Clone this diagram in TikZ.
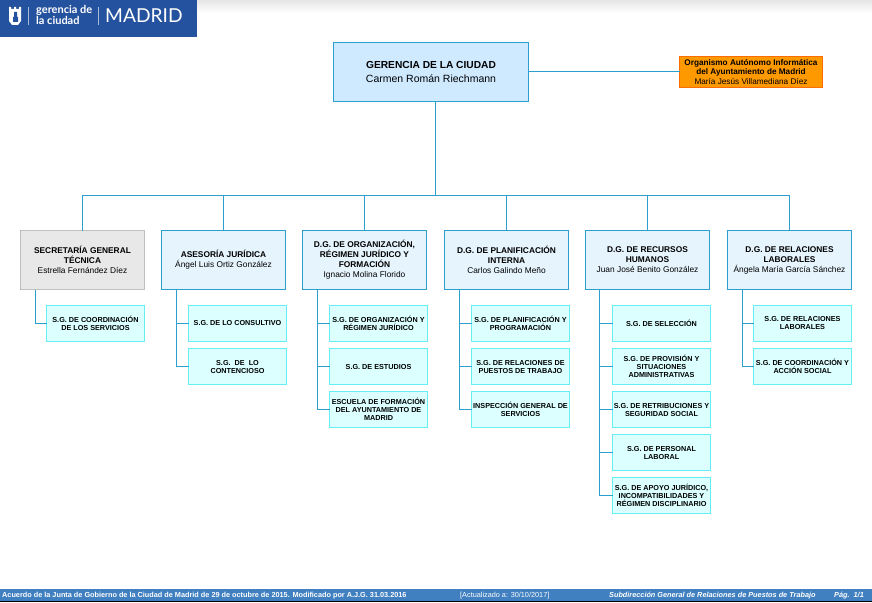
\documentclass[tikz,border=0pt]{standalone}
\usepackage{fontspec}
\setmainfont{Liberation Sans}
\newfontfamily\logofont{Lato}
\usepackage{xcolor}
\definecolor{linkblue}{HTML}{2BA0CF}
\definecolor{headblue}{HTML}{25529E}
\definecolor{footblue}{HTML}{4080C0}
\definecolor{topfill}{HTML}{CFEAFF}
\definecolor{dirfill}{HTML}{E6F4FD}
\definecolor{subfill}{HTML}{DCFFFF}
\definecolor{subline}{HTML}{66EEF2}
\definecolor{orgfill}{HTML}{FF9900}
\tikzset{
  topbox/.style={draw=linkblue,fill=topfill,line width=1.3pt,anchor=north west,minimum width=195pt,minimum height=59pt,
    inner sep=0pt,outer sep=0pt,align=center,font=\fontsize{10.5}{13.5}\selectfont},
  orgbox/.style={draw=orange!85!red,fill=orgfill,line width=.8pt,anchor=north west,minimum width=143pt,minimum height=31pt,
    inner sep=0pt,outer sep=0pt,align=center,font=\fontsize{8.2}{9.3}\selectfont},
  dirbox/.style={draw=linkblue,fill=dirfill,line width=1.3pt,anchor=north west,minimum width=124pt,minimum height=59pt,
    inner sep=0pt,outer sep=0pt,align=center,font=\fontsize{8.35}{10}\selectfont},
  secbox/.style={dirbox,draw=black!25,fill=black!9},
  subbox/.style={draw=subline,fill=subfill,line width=1pt,anchor=north west,minimum width=98pt,minimum height=36pt,
    inner sep=0pt,outer sep=0pt,align=center,font=\fontsize{7.25}{8}\selectfont\bfseries},
  link/.style={draw=linkblue,line width=1.3pt},
  foot/.style={anchor=west,inner sep=0pt,text=white,font=\fontsize{7.3}{8}\selectfont},
}
\begin{document}
\begin{tikzpicture}[x=1pt,y=-1pt]
   \useasboundingbox (0,0) rectangle (872,602);
   % header
   \shade[top color=black!10,bottom color=white] (197,0) rectangle (872,13);
   \fill[headblue] (0,0) rectangle (197,37);
   \fill[white] (9,7) -- (11,7) -- (11,9) -- (14,9) -- (14,7) -- (16,7) -- (16,9) -- (19,9) -- (19,7) -- (21,7)
      -- (21,21) -- (18,25) -- (12,25) -- (9,21) -- cycle;
   \fill[headblue] (14,12) rectangle (17,17) (13,17) rectangle (18,22);
   \draw[white!60!headblue,line width=.7pt] (28.5,7) -- (28.5,25);
   \draw[white!60!headblue,line width=.7pt] (98.5,7) -- (98.5,25);
   \node[anchor=west,inner sep=0pt,align=left,text=white,font=\logofont\bfseries\fontsize{11}{11}\selectfont] (logotext) at (36,14.5) {gerencia de\\la ciudad};
   \node[anchor=west,inner sep=0pt,text=white,font=\logofont\fontsize{19.2}{19}\selectfont] (logocity) at (105,16) {MADRID};
   % top
   \node[topbox] (gerencia) at (333.5,42.5) {\textbf{\fontsize{10.2}{13.5}\selectfont GERENCIA DE LA CIUDAD}\\Carmen Román Riechmann};
   \node[orgbox] (informatica) at (679.5,56.5) {\textbf{Organismo Autónomo Informática}\\\textbf{del Ayuntamiento de Madrid}\\María Jesús Villamediana Díez};
   % direcciones
   \node[secbox] (secretaria) at (20.5,230.5) {\textbf{SECRETARÍA GENERAL}\\\textbf{TÉCNICA}\\Estrella Fernández Díez};
   \node[dirbox] (asesoria) at (161.5,230.5) {\textbf{ASESORÍA JURÍDICA}\\Ángel Luis Ortiz González};
   \node[dirbox] (organizacion) at (302.5,230.5) {\textbf{D.G. DE ORGANIZACIÓN,}\\\textbf{RÉGIMEN JURÍDICO Y}\\\textbf{FORMACIÓN}\\Ignacio Molina Florido};
   \node[dirbox] (planificacion) at (444.5,230.5) {\textbf{D.G. DE PLANIFICACIÓN}\\\textbf{INTERNA}\\Carlos Galindo Meño};
   \node[dirbox] (recursos) at (585.5,230.5) {\textbf{D.G. DE RECURSOS}\\\textbf{HUMANOS}\\Juan José Benito González};
   \node[dirbox] (relaciones) at (727.5,230.5) {\textbf{D.G. DE RELACIONES}\\\textbf{LABORALES}\\Ángela María García Sánchez};
   % subdirecciones
   \node[subbox] (secA) at (46.5,305.5) {S.G. DE COORDINACIÓN\\DE LOS SERVICIOS};
   \node[subbox] (aseA) at (188.5,305.5) {S.G. DE LO CONSULTIVO};
   \node[subbox] (aseB) at (188.5,348.5) {S.G.\ \ DE\ \ LO\\CONTENCIOSO};
   \node[subbox] (orgA) at (329.5,305.5) {S.G. DE ORGANIZACIÓN Y\\RÉGIMEN JURÍDICO};
   \node[subbox] (orgB) at (329.5,348.5) {S.G. DE ESTUDIOS};
   \node[subbox] (orgC) at (329.5,391.5) {ESCUELA DE FORMACIÓN\\DEL AYUNTAMIENTO DE\\MADRID};
   \node[subbox] (plaA) at (471.5,305.5) {S.G. DE PLANIFICACIÓN Y\\PROGRAMACIÓN};
   \node[subbox] (plaB) at (471.5,348.5) {S.G. DE RELACIONES DE\\PUESTOS DE TRABAJO};
   \node[subbox] (plaC) at (471.5,391.5) {INSPECCIÓN GENERAL DE\\SERVICIOS};
   \node[subbox] (recA) at (612.5,305.5) {S.G. DE SELECCIÓN};
   \node[subbox] (recB) at (612.5,348.5) {S.G. DE PROVISIÓN Y\\SITUACIONES\\ADMINISTRATIVAS};
   \node[subbox] (recC) at (612.5,391.5) {S.G. DE RETRIBUCIONES Y\\SEGURIDAD SOCIAL};
   \node[subbox] (recD) at (612.5,434.5) {S.G. DE PERSONAL\\LABORAL};
   \node[subbox] (recE) at (612.5,477.5) {S.G. DE APOYO JURÍDICO,\\INCOMPATIBILIDADES Y\\RÉGIMEN DISCIPLINARIO};
   \node[subbox] (relA) at (753.5,305.5) {S.G. DE RELACIONES\\LABORALES};
   \node[subbox] (relB) at (753.5,348.5) {S.G. DE COORDINACIÓN Y\\ACCIÓN SOCIAL};
   % links
   \coordinate (bus) at (435.5,195.5);
   \draw[link] ([yshift=.5pt]gerencia.east) -- ([yshift=.5pt]informatica.west |- gerencia.east);
   \draw[link] (bus |- gerencia.south) -- (bus);
   \draw[link] (secretaria.north) |- (bus) -| (relaciones.north);
   \foreach \dir in {asesoria,organizacion,planificacion,recursos}
     \draw[link] (\dir.north) -- (\dir.north |- bus);
   \draw[link] ([xshift=15pt]secretaria.south west) |- (secA.west);
   \foreach \sub in {aseA,aseB}
     \draw[link] ([xshift=15pt]asesoria.south west) |- (\sub.west);
   \foreach \sub in {orgA,orgB,orgC}
     \draw[link] ([xshift=15pt]organizacion.south west) |- (\sub.west);
   \foreach \sub in {plaA,plaB,plaC}
     \draw[link] ([xshift=15pt]planificacion.south west) |- (\sub.west);
   \foreach \sub in {recA,recB,recC,recD,recE}
     \draw[link] ([xshift=14pt]recursos.south west) |- (\sub.west);
   \foreach \sub in {relA,relB}
     \draw[link] ([xshift=15pt]relaciones.south west) |- (\sub.west);
   % footer
   \fill[footblue] (0,589) rectangle (872,601);
   \draw[black,line width=.8pt] (0,601.3) -- (872,601.3);
   \node[foot,font=\fontsize{7.3}{8}\selectfont\bfseries] (acuerdo) at (2,595.5) {Acuerdo de la Junta de Gobierno de la Ciudad de Madrid de 29 de octubre de 2015. Modificado por A.J.G. 31.03.2016};
   \node[foot] (fecha) at (460,595.5) {[Actualizado a: 30/10/2017]};
   \node[foot,font=\fontsize{7.3}{8}\selectfont\bfseries\itshape] (unidad) at (609,595.5) {Subdirección General de Relaciones de Puestos de Trabajo};
   \node[foot,font=\fontsize{7.3}{8}\selectfont\bfseries\itshape] (pagina) at (834,595.5) {Pág.\ \ 1/1};
\end{tikzpicture}
\end{document}
